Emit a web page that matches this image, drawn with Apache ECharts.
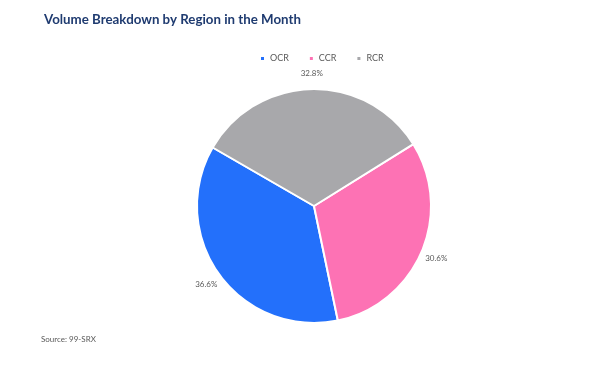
<!DOCTYPE html>
<html>
<head>
<meta charset="utf-8">
<script src="https://cdn.jsdelivr.net/npm/echarts@6/dist/echarts.min.js"></script>
<style>
  html, body { margin: 0; padding: 0; background: #fff; }
  #chart { width: 602px; height: 366px; }
</style>
</head>
<body>
<div id="chart"></div>
<script>
// region shares for the month (%)
var regions = ["OCR", "CCR", "RCR"];
var shares = [36.6, 30.6, 32.8];
var colors = ["#2370fb", "#fd72b4", "#a8a8ab"];

var pieData = regions.map(function (name, i) {
  return { name: name, value: shares[i], itemStyle: { color: colors[i] } };
});

var chart = echarts.init(document.getElementById("chart"));
chart.setOption({
  animation: false,
  title: {
    text: "Volume Breakdown by Region in the Month",
    left: 39,
    top: 8,
    textStyle: { fontFamily: "Lato", fontWeight: "bold", fontSize: 13.3, color: "#1f3b70" }
  },
  legend: {
    data: regions,
    top: 49,
    left: 254,
    icon: "rect",
    itemWidth: 5,
    itemHeight: 5,
    itemGap: 19,
    textStyle: { fontFamily: "Lato", fontSize: 9, color: "#595959" }
  },
  graphic: [{
    type: "text",
    left: 41,
    top: 335,
    style: { text: "Source: 99-SRX", font: "8px Lato", fill: "#595959" }
  }],
  series: [{
    type: "pie",
    center: [314, 206],
    radius: 117,
    startAngle: 150,
    clockwise: false,
    data: pieData,
    itemStyle: { borderColor: "#fff", borderWidth: 2 },
    label: {
      position: "outside",
      formatter: function (p) { return p.value.toFixed(1) + "%"; },
      fontFamily: "Lato",
      fontSize: 8,
      color: "#595959",
      distanceToLabelLine: 0
    },
    labelLine: { show: false, length: 16, length2: 0 },
    labelLayout: function () { return { align: "center" }; }
  }]
});
</script>
</body>
</html>
